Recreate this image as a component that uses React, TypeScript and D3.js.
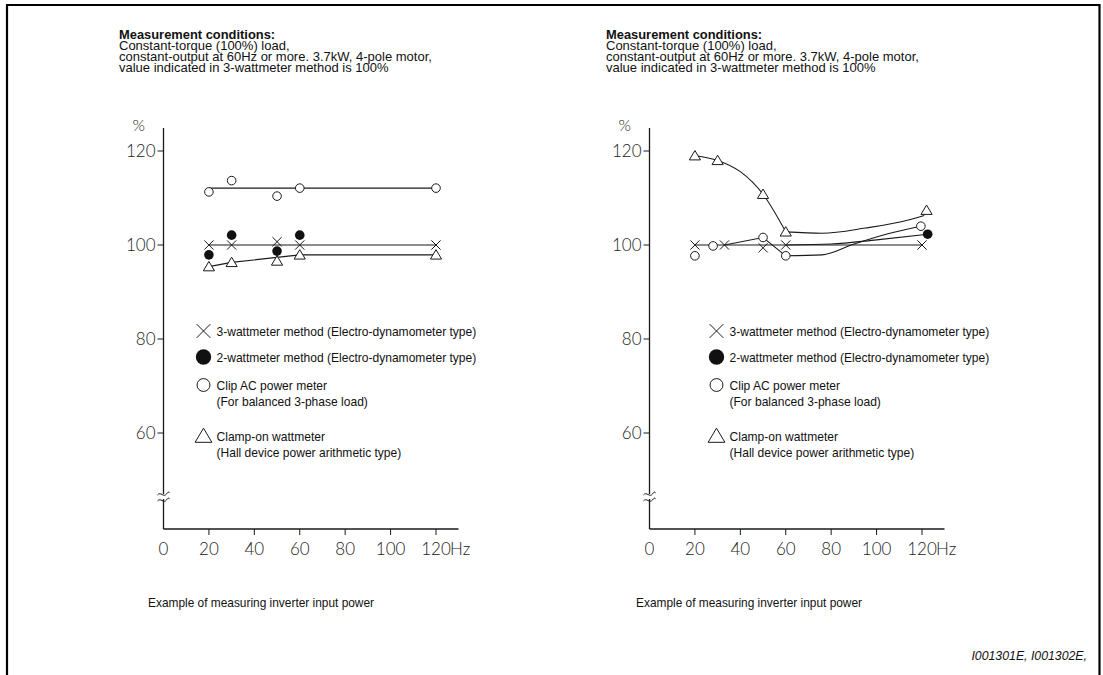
import React from "react";
import * as d3 from "d3";

// ---------- data ----------
const xTicks = [20, 40, 60, 80, 100, 120];
const yTicks = [60, 80, 100, 120];

// Left chart
const L_threeWatt: [number, number][] = [[20, 100], [30, 100], [50, 100.7], [60, 100], [120, 100]];
const L_twoWatt: [number, number][] = [[20, 97.9], [30, 102.1], [50, 98.7], [60, 102.1]];
const L_clip: [number, number][] = [[20, 111.3], [30, 113.7], [50, 110.4], [60, 112.1], [120, 112.1]];
const L_clamp: [number, number][] = [[20, 95.4], [30, 96.3], [50, 96.6], [60, 97.9], [120, 97.9]];
const L_threeWattLine: [number, number][] = [[20, 100], [120, 100]];
const L_clipLine: [number, number][] = [[20, 112.1], [120, 112.1]];
const L_clampLine: [number, number][] = [[20, 95.4], [30, 96.3], [60, 97.9], [120, 97.9]];

// Right chart
const R_threeWatt: [number, number][] = [[20, 100], [33, 100], [50, 99.4], [60, 100], [120, 100]];
const R_twoWatt: [number, number][] = [[122.5, 102.3]];
const R_clip: [number, number][] = [[20, 97.7], [28, 99.8], [50, 101.6], [60, 97.7], [119.5, 104]];
const R_clamp: [number, number][] = [[20, 119], [30, 118], [50, 110.8], [60, 102.8], [122, 107.4]];
const R_threeWattLine: [number, number][] = [[20, 100], [120, 100]];
const R_clipLineA: [number, number][] = [[33, 100], [50, 101.6], [60, 97.7]];
const R_clipCurve: [number, number][] = [[60, 97.7], [76, 97.9], [90, 100.2], [105, 102.4], [119.5, 104]];
const R_twoWattCurve: [number, number][] = [[60, 100], [80, 100.2], [100, 101.1], [122.5, 102.3]];
const R_clampCurveA: [number, number][] = [[20, 119], [30, 118], [40, 115.6], [50, 110.8], [60, 102.8]];
const R_clampCurveB: [number, number][] = [[60, 102.8], [76, 102.5], [95, 103.6], [114, 105.3], [121, 106.3]];

const headerLines = [
  "Constant-torque (100%) load,",
  "constant-output at 60Hz or more. 3.7kW, 4-pole motor,",
  "value indicated in 3-wattmeter method is 100%",
];
const legendItems = [
  { key: "x", lines: ["3-wattmeter method (Electro-dynamometer type)"] },
  { key: "dot", lines: ["2-wattmeter method (Electro-dynamometer type)"] },
  { key: "circle", lines: ["Clip AC power meter", "(For balanced 3-phase load)"] },
  { key: "tri", lines: ["Clamp-on wattmeter", "(Hall device power arithmetic type)"] },
];

const INK = "#1a1a1a";
const TXT = "'Liberation Sans', Arial, Helvetica, sans-serif";
const AX = "Lato, 'Noto Sans', sans-serif";

function Marker({ kind, x, y, s = 1 }: { kind: string; x: number; y: number; s?: number }) {
  if (kind === "x") {
    const r = 4.6 * s;
    return (
      <g stroke={INK} strokeWidth={1}>
        <line x1={x - r} y1={y - r} x2={x + r} y2={y + r} />
        <line x1={x - r} y1={y + r} x2={x + r} y2={y - r} />
      </g>
    );
  }
  if (kind === "dot") return <circle cx={x} cy={y} r={4.8 * s} fill="#111" />;
  if (kind === "circle") return <circle cx={x} cy={y} r={4.3 * s} fill="#fff" stroke={INK} strokeWidth={1} />;
  const w = 5.6 * s;
  return (
    <path
      d={`M${x},${y - 5.2 * s}L${x + w},${y + 4.2 * s}L${x - w},${y + 4.2 * s}Z`}
      fill="#fff"
      stroke={INK}
      strokeWidth={1}
      strokeLinejoin="miter"
    />
  );
}

type Panel = {
  x0: number;
  header: number;
  legendX: number;
  footerX: number;
  straight: [number, number][][];
  smooth: [number, number][][];
  series: { kind: string; pts: [number, number][] }[];
};

function Chart({ p }: { p: Panel }) {
  const x = d3.scaleLinear().domain([0, 120]).range([p.x0, p.x0 + 272.5]);
  const y = d3.scaleLinear().domain([60, 120]).range([433, 151]);
  const axisBottom = 529;
  const axisTop = 128;
  const lineS = d3.line<[number, number]>().x((d) => x(d[0])).y((d) => y(d[1]));
  const lineC = d3
    .line<[number, number]>()
    .x((d) => x(d[0]))
    .y((d) => y(d[1]))
    .curve(d3.curveMonotoneX);
  const ax = p.x0;
  const breakY = 494;
  return (
    <g>
      {/* header */}
      <text x={p.header} y={39} fontFamily={TXT} fontSize={12.9} fontWeight="bold" fill="#111">
        Measurement conditions:
      </text>
      {headerLines.map((t, i) => (
        <text key={i} x={p.header} y={50 + i * 11} fontFamily={TXT} fontSize={13} fill="#111">
          {t}
        </text>
      ))}
      {/* axes */}
      <line x1={ax} y1={axisTop} x2={ax} y2={axisBottom} stroke={INK} strokeWidth={1.3} />
      <line x1={ax} y1={axisBottom} x2={ax + 295} y2={axisBottom} stroke={INK} strokeWidth={1.3} />
      {/* break mark */}
      <rect x={ax - 6} y={breakY} width={12} height={5} fill="#fff" />
      {[breakY, breakY + 6].map((b, i) => (
        <path
          key={i}
          d={`M${ax - 6},${b + 1} C${ax - 3},${b - 3} ${ax},${b + 4} ${ax + 3},${b} S${ax + 5},${b - 1} ${ax + 6},${b - 1}`}
          fill="none"
          stroke={INK}
          strokeWidth={1}
        />
      ))}
      {yTicks.map((t) => (
        <g key={t}>
          <line x1={ax - 6} y1={y(t)} x2={ax} y2={y(t)} stroke={INK} strokeWidth={1} />
          <text
            x={ax - 8}
            y={y(t)}
            dy="0.36em"
            textAnchor="end"
            fontFamily={AX}
            fontWeight={300}
            fontSize={17}
            fill="#222"
          >
            {t}
          </text>
        </g>
      ))}
      <text x={ax - 31} y={131} fontFamily={AX} fontWeight={300} fontSize={16} fill="#222">
        %
      </text>
      <text x={x(0)} y={555} textAnchor="middle" fontFamily={AX} fontWeight={300} fontSize={17} fill="#222">
        0
      </text>
      {xTicks.map((t) => (
        <g key={t}>
          <line x1={x(t)} y1={axisBottom} x2={x(t)} y2={axisBottom + 6} stroke={INK} strokeWidth={1} />
          <text x={x(t)} y={555} textAnchor="middle" fontFamily={AX} fontWeight={300} fontSize={17} fill="#222">
            {t}
          </text>
        </g>
      ))}
      <text x={x(120) + 14} y={555} fontFamily={AX} fontWeight={300} fontSize={17} fill="#222">
        Hz
      </text>
      {/* lines */}
      {p.straight.map((l, i) => (
        <path key={"s" + i} d={lineS(l) || ""} fill="none" stroke={INK} strokeWidth={1.1} />
      ))}
      {p.smooth.map((l, i) => (
        <path key={"c" + i} d={lineC(l) || ""} fill="none" stroke={INK} strokeWidth={1.1} />
      ))}
      {/* markers */}
      {p.series.map((s) =>
        s.pts.map((d, i) => <Marker key={s.kind + i} kind={s.kind} x={x(d[0])} y={y(d[1])} />)
      )}
      {/* legend */}
      {legendItems.map((it, i) => {
        const ys = [331, 357, 385, 436][i];
        return (
          <g key={it.key}>
            <Marker kind={it.key} x={p.legendX} y={ys} s={it.key === "dot" ? 1.6 : 1.5} />
            {it.lines.map((t, j) => (
              <text
                key={j}
                x={p.legendX + 13}
                y={ys + 4.5 + j * 16}
                fontFamily={TXT}
                fontSize={12.05}
                fill="#111"
              >
                {t}
              </text>
            ))}
          </g>
        );
      })}
      <text x={p.footerX} y={607} fontFamily={TXT} fontSize={11.9} fill="#111">
        Example of measuring inverter input power
      </text>
    </g>
  );
}

export default function App() {
  const left: Panel = {
    x0: 163.5,
    header: 119,
    legendX: 203.5,
    footerX: 148,
    straight: [L_threeWattLine, L_clipLine, L_clampLine],
    smooth: [],
    series: [
      { kind: "x", pts: L_threeWatt },
      { kind: "dot", pts: L_twoWatt },
      { kind: "circle", pts: L_clip },
      { kind: "tri", pts: L_clamp },
    ],
  };
  const right: Panel = {
    x0: 649.5,
    header: 606,
    legendX: 716.5,
    footerX: 636,
    straight: [R_threeWattLine, R_clipLineA],
    smooth: [R_clipCurve, R_twoWattCurve, R_clampCurveA, R_clampCurveB],
    series: [
      { kind: "x", pts: R_threeWatt },
      { kind: "dot", pts: R_twoWatt },
      { kind: "circle", pts: R_clip },
      { kind: "tri", pts: R_clamp },
    ],
  };
  return (
    <svg
      width={1103}
      height={675}
      style={{ position: "absolute", left: 0, top: 0, background: "#fff" }}
    >
      <rect x={0} y={0} width={1103} height={675} fill="#fff" />
      <path d="M7,675 V5 H1099.5 V675" fill="none" stroke="#000" strokeWidth={2.2} />
      <Chart p={left} />
      <Chart p={right} />
      <text
        x={1087}
        y={660}
        textAnchor="end"
        fontFamily={TXT}
        fontStyle="italic"
        fontSize={12.3}
        fill="#111"
      >
        I001301E, I001302E,
      </text>
    </svg>
  );
}
